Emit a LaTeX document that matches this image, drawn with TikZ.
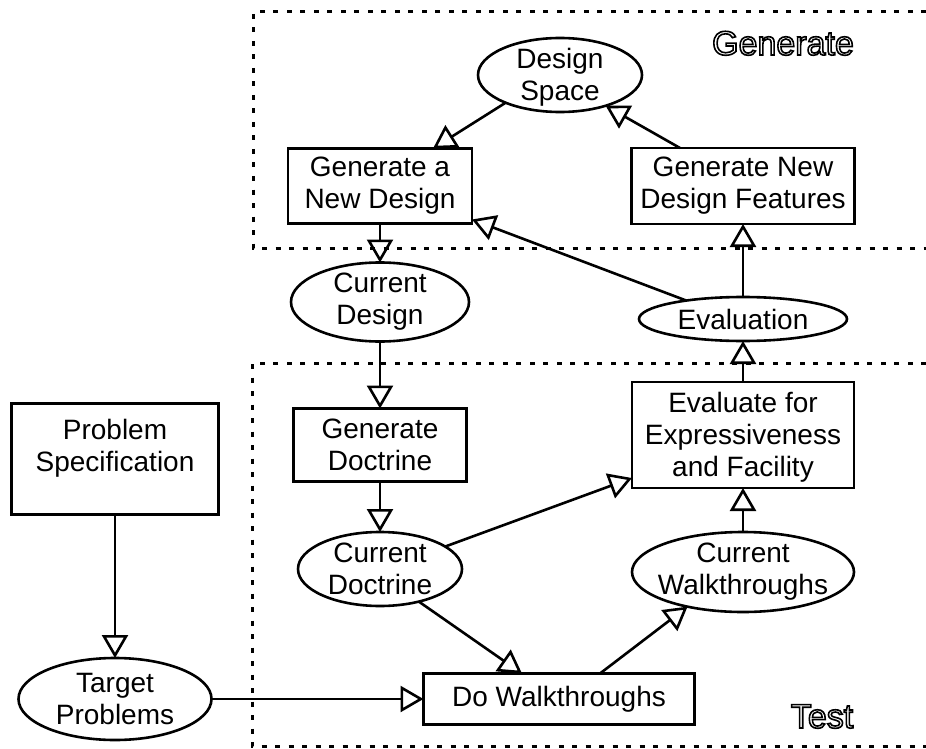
\documentclass[tikz,border=0pt]{standalone}
\usepackage{fontspec}
\setmainfont{Liberation Sans}
\usetikzlibrary{shapes.geometric,arrows.meta}
\newcommand\outl[1]{\special{pdf:literal direct 1 Tr 1.6 w}#1\special{pdf:literal direct 0 Tr}}
\begin{document}
\begin{tikzpicture}[x=1pt,y=-1pt,
  every node/.style={inner sep=0pt, outer sep=0pt},
  txt/.style={font=\fontsize{28}{32}\selectfont, align=center},
  boxnode/.style={draw, line width=2.6pt, rectangle},
  ellnode/.style={draw, line width=2.6pt, ellipse},
  conn/.style={line width=2.6pt, -{Triangle[open, length=23pt, width=26pt, line width=2.6pt]}},
  frame/.style={line width=3pt, dash pattern=on 5pt off 8.5pt},
  lbl/.style={font=\fontsize{34}{36}\selectfont}
]
\fill[white] (0,0) rectangle (926,749);
\useasboundingbox (0,0) rectangle (926,749);

% frames
\draw[frame] (926,12) -- (253,12) -- (253,248) -- (926,248);
\draw[frame] (926,363) -- (252,363) -- (252,746) -- (926,746);

% nodes
\node[ellnode, minimum width=164pt, minimum height=74pt] (ds) at (560,75) {};
\node[txt] (dst) at (560,77) {Design\\Space};
\node[boxnode, minimum width=184pt, minimum height=75pt] (gand) at (380,186) {};
\node[txt] (gandt) at (380,186) {Generate a\\New Design};
\node[boxnode, minimum width=223pt, minimum height=76pt] (gndf) at (743,186) {};
\node[txt] (gndft) at (743,186) {Generate New\\Design Features};
\node[ellnode, minimum width=178pt, minimum height=79pt] (cdes) at (380,302) {};
\node[txt] (cdest) at (380,302) {Current\\Design};
\node[ellnode, minimum width=208pt, minimum height=44pt] (ev) at (743,319) {};
\node[txt] (evt) at (743,319) {Evaluation};
\node[boxnode, minimum width=173pt, minimum height=73pt] (gd) at (380,445) {};
\node[txt] (gdt) at (380,445) {Generate\\Doctrine};
\node[boxnode, minimum width=222pt, minimum height=106pt] (evb) at (743,435) {};
\node[txt] (evbt) at (743,437) {Evaluate for\\Expressiveness\\and Facility};
\node[ellnode, minimum width=164pt, minimum height=74pt] (cdoc) at (380,569) {};
\node[txt] (cdoct) at (380,569) {Current\\Doctrine};
\node[ellnode, minimum width=222pt, minimum height=80pt] (cw) at (743,572) {};
\node[txt] (cwt) at (743,572) {Current\\Walkthroughs};
\node[boxnode, minimum width=207pt, minimum height=111pt] (ps) at (115,459) {};
\node[txt] (pst) at (115,448) {Problem\\Specification};
\node[ellnode, minimum width=193pt, minimum height=82pt] (tp) at (115,699) {};
\node[txt] (tpt) at (115,699) {Target\\Problems};
\node[boxnode, minimum width=271pt, minimum height=51pt] (dw) at (559,699) {};
\node[txt] (dwt) at (559,699) {Do Walkthroughs};

% labels
\node[lbl, anchor=base] (genlbl) at (783,55) {\outl{Generate}};
\node[lbl, anchor=base] (testlbl) at (822,728) {\outl{Test}};

% connectors
\draw[conn] (ds.-153) -- ([xshift=53pt]gand.north);
\draw[conn] ([xshift=-63pt]gndf.north) -- (ds.-34);
\draw[conn] (ev.162) -- ([yshift=4pt]gand.south east);
\draw[conn] (ev) -- (gndf);
\draw[conn] (gand) -- (cdes);
\draw[conn] (cdes) -- (gd);
\draw[conn] (gd) -- (cdoc);
\draw[conn] (cdoc.19) -- ([yshift=10pt]evb.south west);
\draw[conn] (cdoc.-40) -- ([xshift=-37pt]dw.north);
\draw[conn] ([xshift=41pt]dw.north) -- (cw.-148);
\draw[conn] (cw) -- (evb);
\draw[conn] (evb) -- (ev);
\draw[conn] (ps) -- (tp);
\draw[conn] (tp) -- (dw);
\end{tikzpicture}
\end{document}
